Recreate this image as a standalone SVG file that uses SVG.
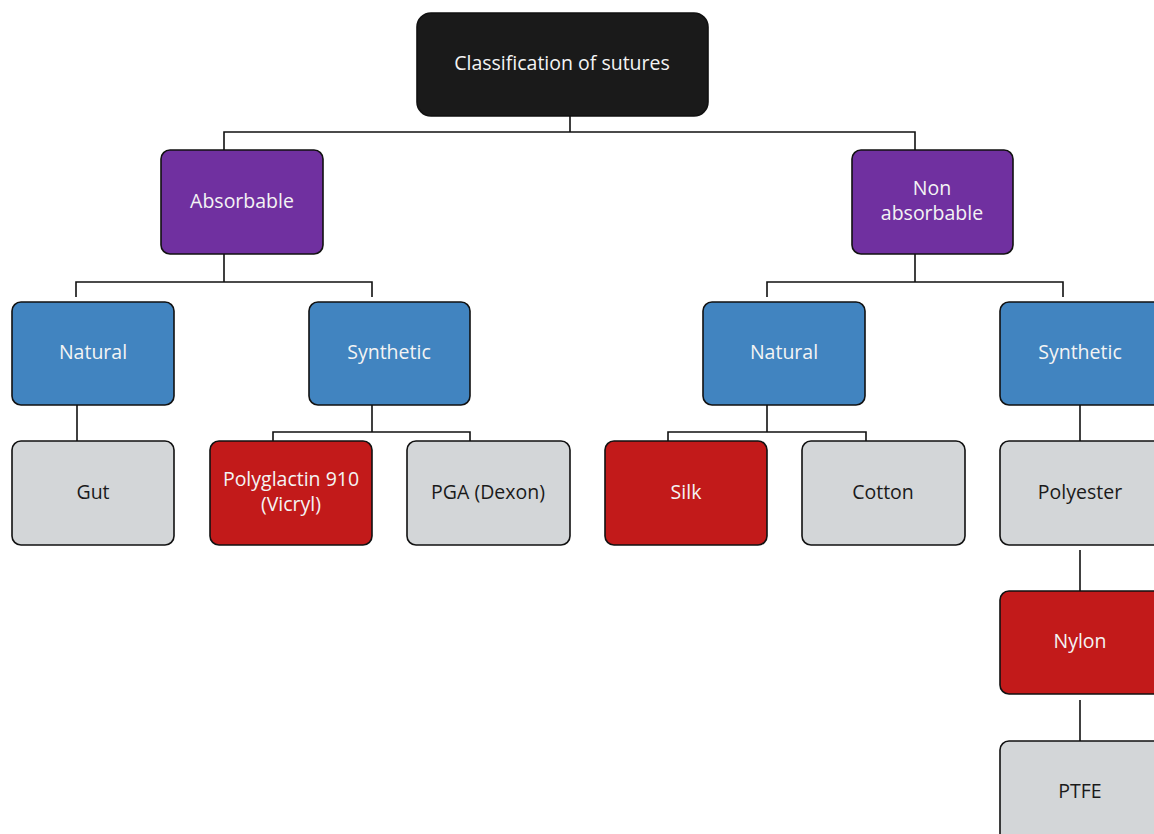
<svg xmlns="http://www.w3.org/2000/svg" width="1154" height="834" viewBox="0 0 1154 834">
<style>
.box{stroke:#111;stroke-width:1.6}
.black{fill:#1a1a1a}
.purple{fill:#7030a0}
.blue{fill:#4184c0}
.red{fill:#c21a1a}
.gray{fill:#d3d6d8}
text{font-family:"Open Sans","Liberation Sans",sans-serif;font-size:19.5px;text-anchor:middle;dominant-baseline:central}
.lt{fill:#f4f4f4}
.dk{fill:#1a1a1a}
.conn{fill:none;stroke:#111;stroke-width:1.6}
</style>
<rect width="1154" height="834" fill="#fff"/>
<g id="connectors">
<path class="conn" d="M570,100V132M224,150V132H915V150"/>
<path class="conn" d="M224,254V282M76,297V282H372V297"/>
<path class="conn" d="M915,254V282M767,297V282H1063V297"/>
<path class="conn" d="M77,405V441"/>
<path class="conn" d="M372,405V432M273,447V432H470V447"/>
<path class="conn" d="M767,405V432M668,447V432H866V447"/>
<path class="conn" d="M1080,405V441"/>
<path class="conn" d="M1080,550V591"/>
<path class="conn" d="M1080,700V741"/>
</g>
<g id="root"><rect class="box black" x="417" y="13" width="291" height="103" rx="14"/><text class="lt" x="562" y="62">Classification of sutures</text></g>
<g id="absorbable"><rect class="box purple" x="161" y="150" width="162" height="104" rx="9"/><text class="lt" x="242" y="200">Absorbable</text></g>
<g id="nonabsorbable"><rect class="box purple" x="852" y="150" width="161" height="104" rx="9"/><text class="lt" x="932" y="187">Non</text><text class="lt" x="932" y="212">absorbable</text></g>
<g id="abs-natural"><rect class="box blue" x="12" y="302" width="162" height="103" rx="9"/><text class="lt" x="93" y="351">Natural</text></g>
<g id="abs-synthetic"><rect class="box blue" x="309" y="302" width="161" height="103" rx="9"/><text class="lt" x="389" y="351">Synthetic</text></g>
<g id="non-natural"><rect class="box blue" x="703" y="302" width="162" height="103" rx="9"/><text class="lt" x="784" y="351">Natural</text></g>
<g id="non-synthetic"><rect class="box blue" x="1000" y="302" width="162" height="103" rx="9"/><text class="lt" x="1080" y="351">Synthetic</text></g>
<g id="gut"><rect class="box gray" x="12" y="441" width="162" height="104" rx="9"/><text class="dk" x="93" y="491">Gut</text></g>
<g id="vicryl"><rect class="box red" x="210" y="441" width="162" height="104" rx="9"/><text class="lt" x="291" y="478">Polyglactin 910</text><text class="lt" x="291" y="503">(Vicryl)</text></g>
<g id="pga"><rect class="box gray" x="407" y="441" width="163" height="104" rx="9"/><text class="dk" x="488" y="491">PGA (Dexon)</text></g>
<g id="silk"><rect class="box red" x="605" y="441" width="162" height="104" rx="9"/><text class="lt" x="686" y="491">Silk</text></g>
<g id="cotton"><rect class="box gray" x="802" y="441" width="163" height="104" rx="9"/><text class="dk" x="883" y="491">Cotton</text></g>
<g id="polyester"><rect class="box gray" x="1000" y="441" width="162" height="104" rx="9"/><text class="dk" x="1080" y="491">Polyester</text></g>
<g id="nylon"><rect class="box red" x="1000" y="591" width="162" height="103" rx="9"/><text class="lt" x="1080" y="640">Nylon</text></g>
<g id="ptfe"><rect class="box gray" x="1000" y="741" width="162" height="104" rx="9"/><text class="dk" x="1080" y="790">PTFE</text></g>
</svg>
